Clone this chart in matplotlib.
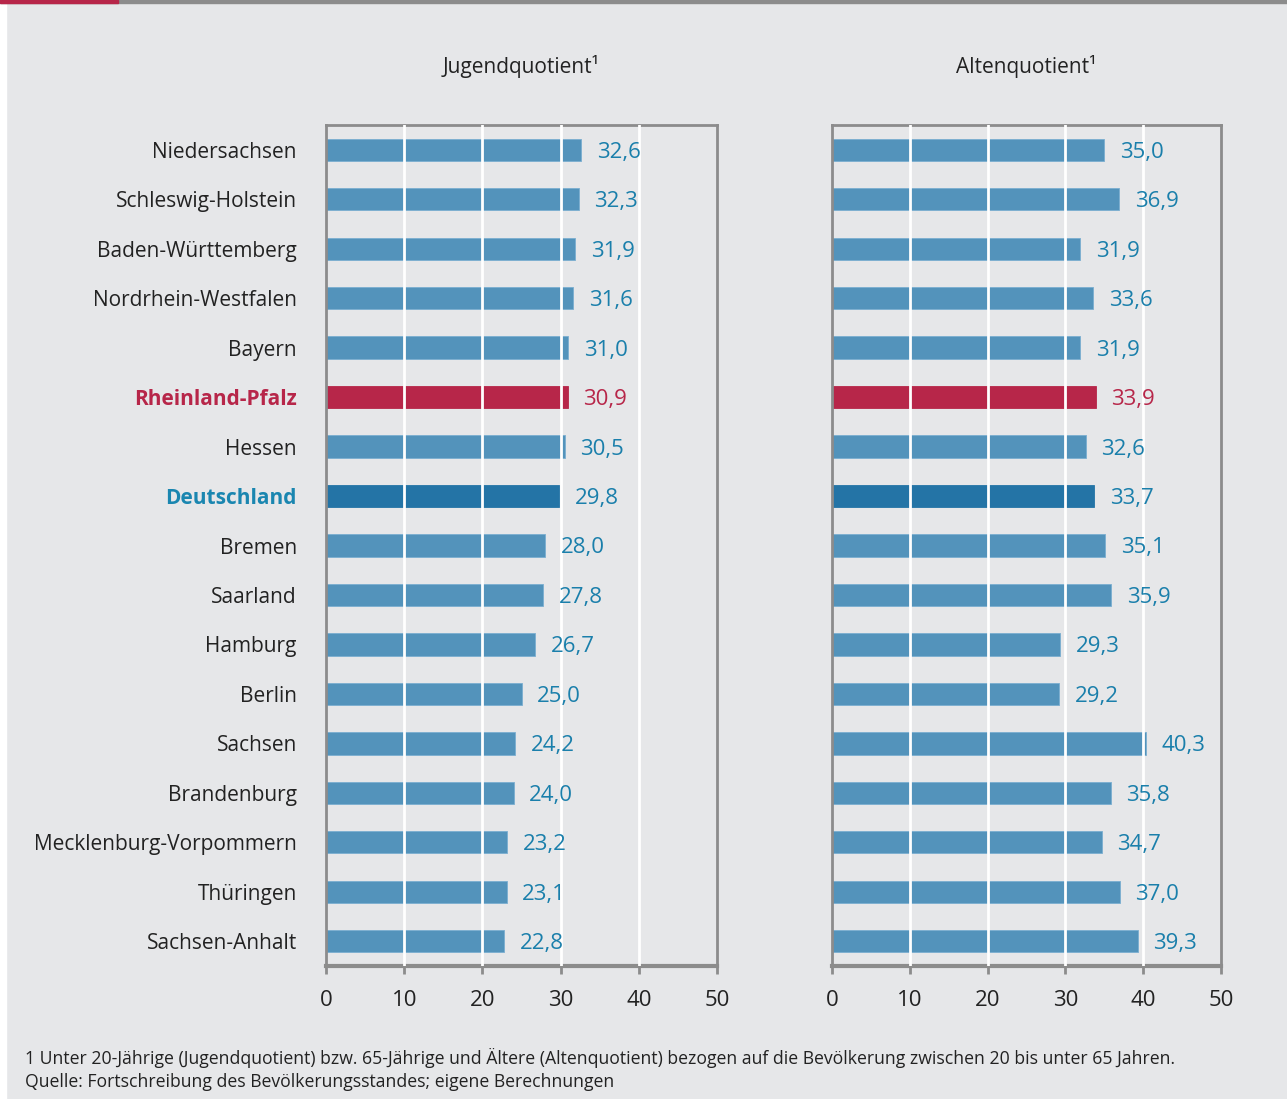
import matplotlib.pyplot as plt
from matplotlib.patches import Rectangle

# Data
laender = ["Niedersachsen", "Schleswig-Holstein", "Baden-Württemberg", "Nordrhein-Westfalen",
           "Bayern", "Rheinland-Pfalz", "Hessen", "Deutschland", "Bremen", "Saarland",
           "Hamburg", "Berlin", "Sachsen", "Brandenburg", "Mecklenburg-Vorpommern",
           "Thüringen", "Sachsen-Anhalt"]
jugend = [32.6, 32.3, 31.9, 31.6, 31.0, 30.9, 30.5, 29.8, 28.0, 27.8, 26.7, 25.0, 24.2, 24.0, 23.2, 23.1, 22.8]
alten = [35.0, 36.9, 31.9, 33.6, 31.9, 33.9, 32.6, 33.7, 35.1, 35.9, 29.3, 29.2, 40.3, 35.8, 34.7, 37.0, 39.3]
titles = ["Jugendquotient¹", "Altenquotient¹"]
xticks = [0, 10, 20, 30, 40, 50]

bg = "#e6e7e9"
blue = "#5393bb"
dark_blue = "#2474a6"
red = "#b72649"
label_blue = "#1a7fab"
spine_gray = "#8c8c8c"

plt.rcParams['font.family'] = ['Open Sans', 'DejaVu Sans']

fig = plt.figure(figsize=(12.87, 10.99), dpi=100, facecolor=bg)

# decoration: white left strip, top rule with red accent
fig.patches.append(Rectangle((0, 0), 6 / 1287, 1, transform=fig.transFigure, color="white", zorder=0))
fig.patches.append(Rectangle((0, 1 - 3 / 1099), 1, 3 / 1099, transform=fig.transFigure, color=spine_gray, zorder=1))
fig.patches.append(Rectangle((0, 1 - 3 / 1099), 118 / 1287, 3 / 1099, transform=fig.transFigure, color=red, zorder=2))

positions = [(326, 391), (832, 389)]
bottom = 1 - 966 / 1099
height = 841 / 1099

for i, (vals, title) in enumerate(zip([jugend, alten], titles)):
    left_px, w_px = positions[i]
    ax = fig.add_axes([left_px / 1287, bottom, w_px / 1287, height])
    ax.set_facecolor(bg)
    y = list(range(len(laender)))
    colors = []
    edges = []
    for name in laender:
        if name == "Rheinland-Pfalz":
            colors.append(red)
            edges.append(red)
        elif name == "Deutschland":
            colors.append(dark_blue)
            edges.append(dark_blue)
        else:
            colors.append(blue)
            edges.append("#7aaed0")
    ax.barh(y, vals, height=0.45, color=colors, edgecolor=edges, linewidth=0.6, zorder=2)
    for yy, v, name in zip(y, vals, laender):
        tc = red if name == "Rheinland-Pfalz" else label_blue
        ax.text(v + 2, yy + 0.05, f"{v:.1f}".replace(".", ","), va="center", ha="left",
                fontsize=16, color=tc, zorder=5)
    ax.set_xlim(0, 50)
    ax.set_ylim(len(laender) - 0.5, -0.5)
    ax.set_xticks(xticks)
    ax.set_xticklabels([str(t) for t in xticks], fontsize=16, color="#222222")
    for gx in xticks[1:-1]:
        ax.axvline(gx, color="white", linewidth=2, zorder=3)
    for s in ["left", "top", "right"]:
        ax.spines[s].set_color(spine_gray)
        ax.spines[s].set_linewidth(2)
    ax.spines["bottom"].set_color(spine_gray)
    ax.spines["bottom"].set_linewidth(3)
    ax.tick_params(axis="x", length=6, width=2, color=spine_gray, pad=11)
    ax.set_yticks(y)
    if i == 0:
        ax.set_yticklabels(laender, fontsize=15, color="#222222")
        ax.tick_params(axis="y", length=0, pad=21)
        for lbl in ax.get_yticklabels():
            if lbl.get_text() == "Rheinland-Pfalz":
                lbl.set_color(red)
                lbl.set_fontweight("bold")
            elif lbl.get_text() == "Deutschland":
                lbl.set_color("#1a86b0")
                lbl.set_fontweight("bold")
    else:
        ax.set_yticklabels([])
        ax.tick_params(axis="y", length=0)
    fig.text((left_px + w_px / 2) / 1287, 1 - 66 / 1099, title, ha="center", va="center",
             fontsize=15, color="#222222")

fig.text(25 / 1287, 1 - 1058 / 1099,
         "1 Unter 20-Jährige (Jugendquotient) bzw. 65-Jährige und Ältere (Altenquotient) bezogen auf die Bevölkerung zwischen 20 bis unter 65 Jahren.",
         ha="left", va="center", fontsize=12.7, color="#222222")
fig.text(25 / 1287, 1 - 1082 / 1099,
         "Quelle: Fortschreibung des Bevölkerungsstandes; eigene Berechnungen",
         ha="left", va="center", fontsize=12.7, color="#222222")

fig.savefig("out.png", dpi=100, facecolor=bg)
